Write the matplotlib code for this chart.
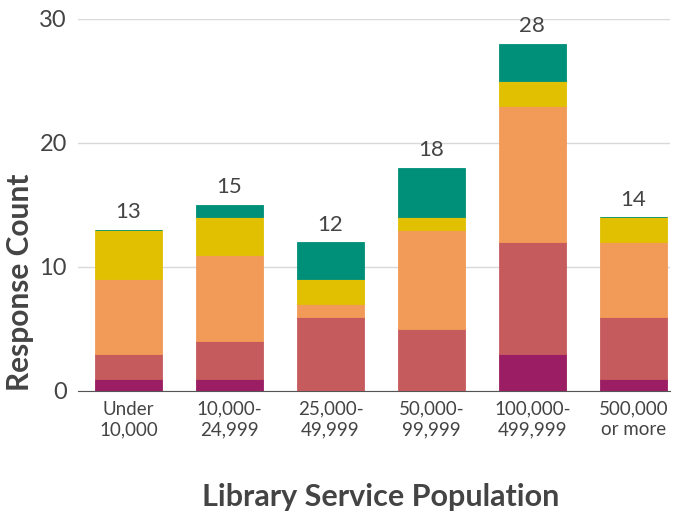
import numpy as np
import matplotlib
matplotlib.use('Agg')
import matplotlib.pyplot as plt

plt.rcParams['font.family'] = ['Lato', 'DejaVu Sans']

# Datos
categorias = ['Under\n10,000', '10,000-\n24,999', '25,000-\n49,999',
              '50,000-\n99,999', '100,000-\n499,999', '500,000\nor more']
morado = [1, 1, 0, 0, 3, 1]
rojo = [2, 3, 6, 5, 9, 5]
naranja = [6, 7, 1, 8, 11, 6]
amarillo = [4, 3, 2, 1, 2, 2]
verde = [0, 1, 3, 4, 3, 0]

series = [morado, rojo, naranja, amarillo, verde]
colores = ['#9b1d63', '#c65b5e', '#f29a57', '#e0c000', '#00907a']

fig = plt.figure(figsize=(6.73, 5.11), dpi=100)
ax = fig.add_axes([0.116, 0.235, 0.879, 0.728])

x = np.arange(len(categorias))
base = np.zeros(len(categorias))
for vals, col in zip(series, colores):
    ax.bar(x, vals, 0.66, bottom=base, color=col, edgecolor=col,
           linewidth=0.6, zorder=3)
    base += np.array(vals)

for xi, tot in zip(x, base):
    ax.text(xi, tot + 0.6, f'{int(tot)}', ha='center', va='bottom',
            fontsize=16, color='#444444')

ax.set_ylim(0, 30)
ax.set_xlim(-0.5, 5.36)
ax.set_yticks([0, 10, 20, 30])
ax.grid(axis='y', color='#d9d9d9', linewidth=1, zorder=0)
for s in ['top', 'right', 'left']:
    ax.spines[s].set_visible(False)
ax.spines['bottom'].set_color('#555555')
ax.set_xticks(x)
ax.set_xticklabels(categorias, fontsize=13.5, color='#444444', linespacing=1.25)
ax.tick_params(axis='x', length=0, pad=7)
ax.tick_params(axis='y', length=0, labelsize=17, labelcolor='#444444', pad=8)

ax.set_ylabel('Response Count', fontsize=21.5, fontweight='bold',
              color='#444444', va='center')
ax.yaxis.set_label_coords(-0.098, 0.293)
ax.set_xlabel('Library Service Population', fontsize=22, fontweight='bold',
              color='#444444', va='center')
ax.xaxis.set_label_coords(0.512, -0.285)

plt.savefig('out.png', dpi=100)
